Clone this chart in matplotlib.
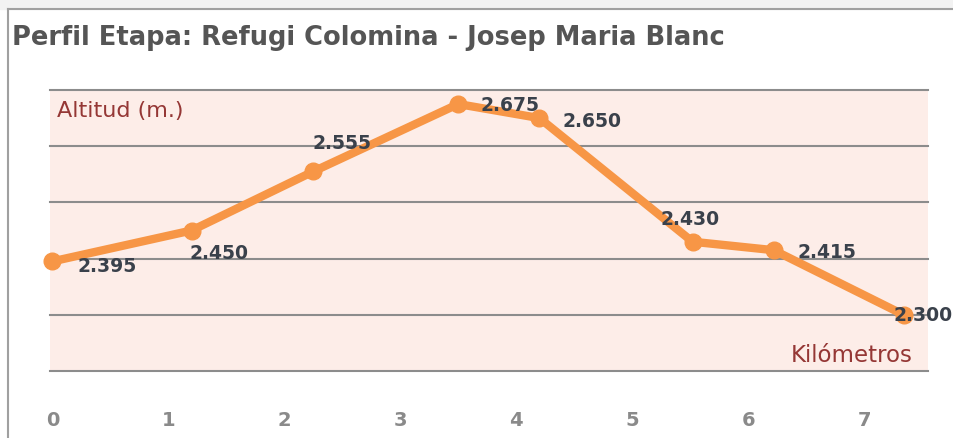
import matplotlib
matplotlib.use('Agg')
import matplotlib.pyplot as plt
from matplotlib.lines import Line2D
from matplotlib.patches import Rectangle

# profile data: distance (km) and altitude (m)
km = [0, 1.2, 2.25, 3.5, 4.2, 5.52, 6.22, 7.34]
altitud = [2395, 2450, 2555, 2675, 2650, 2430, 2415, 2300]
labels = ['2.395', '2.450', '2.555', '2.675', '2.650', '2.430', '2.415', '2.300']
xticks = [0, 1, 2, 3, 4, 5, 6, 7]
ygrid = [2200, 2300, 2400, 2500, 2600, 2700]

# label offsets in pixels (dx, dy), dy positive = up
offsets = [(25, -4), (-2, -22), (-1, 29), (22, 0), (23, -2), (-32, 23), (24, -1), (-10, 0)]

orange = '#F79646'
darkred = '#953735'

fig = plt.figure(figsize=(9.54, 4.39), dpi=100)
W, H = 954, 439

# page frame
fig.patches.append(Rectangle((0, 1 - 10 / H), 1, 10 / H, transform=fig.transFigure,
                             color='#f2f2f2', zorder=0))
fig.lines.append(Line2D([8 / W, 8 / W], [0, 1 - 10 / H], transform=fig.transFigure,
                        color='#a0a0a0', lw=1.5))
fig.lines.append(Line2D([8 / W, 1], [1 - 10 / H, 1 - 10 / H], transform=fig.transFigure,
                        color='#a0a0a0', lw=1.5))

fig.text(12 / W, 1 - 38 / H, 'Perfil Etapa: Refugi Colomina - Josep Maria Blanc',
         fontsize=18.5, fontweight='bold', color='#555555', va='center', ha='left')

ax = fig.add_axes([50 / W, 1 - 372 / H, 878 / W, 281 / H])
ax.set_facecolor('#fdede8')
for s in ax.spines.values():
    s.set_visible(False)
ax.set_xlim(-0.02, 7.55)
ax.set_ylim(2200, 2700)
for y in ygrid:
    ax.axhline(y, color='#8c8c8c', lw=1.5, zorder=1, clip_on=False)

ax.plot(km, altitud, color=orange, lw=6, marker='o', markersize=12,
        solid_joinstyle='round', zorder=3, clip_on=False)

for x, y, t, (dx, dy) in zip(km, altitud, labels, offsets):
    ax.annotate(t, (x, y), xytext=(dx * 0.72, dy * 0.72), textcoords='offset points',
                ha='left', va='center', fontsize=13.5, fontweight='bold', color='#3a414b',
                annotation_clip=False, zorder=4)

ax.set_xticks(xticks)
ax.set_xticklabels([str(v) for v in xticks],
                   family=['Liberation Sans Narrow', 'DejaVu Sans'],
                   fontweight='bold', fontsize=14, color='#8a8a8a')
ax.tick_params(axis='x', length=0, pad=28)
ax.set_yticks([])

ax.text(0.008, 0.93, 'Altitud (m.)', transform=ax.transAxes, fontsize=16,
        color=darkred, ha='left', va='center')
ax.text(0.983, 0.06, 'Kilómetros', transform=ax.transAxes, fontsize=16.5,
        color=darkred, ha='right', va='center')

fig.savefig('out.png', dpi=100)
